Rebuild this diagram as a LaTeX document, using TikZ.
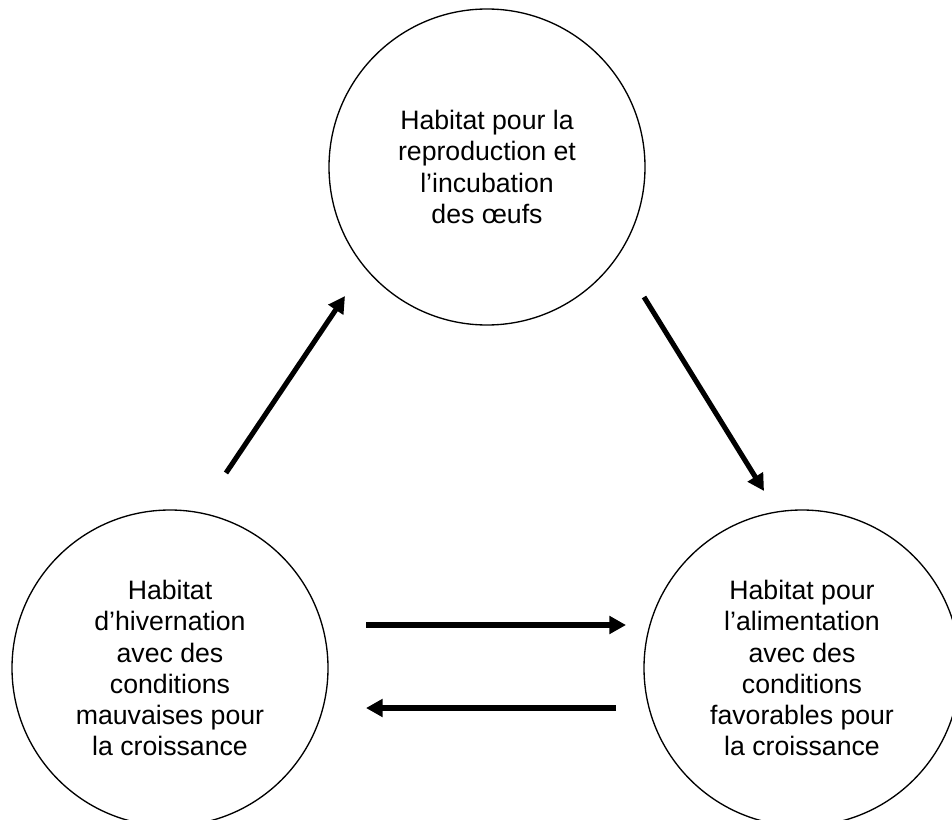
\documentclass[tikz,border=0pt]{standalone}
\usepackage{fontspec}
\setmainfont{Liberation Sans}
\usetikzlibrary{arrows.meta}
\tikzset{
  habitat/.style={draw, circle, line width=1pt, minimum size=237pt, inner sep=0pt,
    align=center, font=\fontsize{20}{23.3}\selectfont},
  flow/.style={line width=3.8pt, -{Triangle[length=12.5pt,width=13pt]}}
}
\begin{document}
\begin{tikzpicture}[x=0.75pt, y=-0.75pt]
    \useasboundingbox (0,0) rectangle (952,820);

    % Habitats
    \node[habitat] (repro) at (487,167) {Habitat pour la\\reproduction et\\l’incubation\\des œufs};
    \node[habitat] (hiver) at (170,668) {Habitat\\d’hivernation\\avec des\\conditions\\mauvaises pour\\la croissance};
    \node[habitat] (alim) at (802,668) {Habitat pour\\l’alimentation\\avec des\\conditions\\favorables pour\\la croissance};

    % Arrow ends
    \coordinate (hr1) at (226,473);
    \coordinate (hr2) at (345,296);
    \coordinate (ra1) at (644,297);
    \coordinate (ra2) at (764,491);
    \coordinate (ha1) at (366,625);
    \coordinate (ha2) at (626,625);
    \coordinate (ah1) at (616,708);
    \coordinate (ah2) at (366,708);

    % Cycle
    \draw[flow] (hr1) -- (hr2);
    \draw[flow] (ra1) -- (ra2);
    \draw[flow] (ha1) -- (ha2);
    \draw[flow] (ah1) -- (ah2);
  \end{tikzpicture}
\end{document}
